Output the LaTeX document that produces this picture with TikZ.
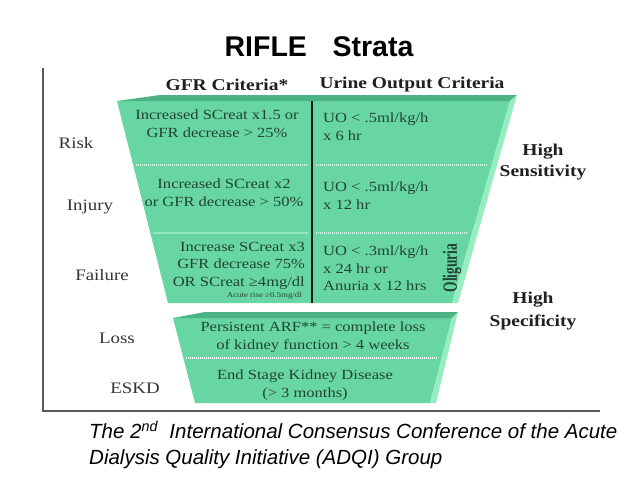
\documentclass[tikz,border=0pt]{standalone}
\usepackage{fontspec}
\setmainfont{Liberation Serif}
\newfontfamily\wideserif[FakeStretch=1.18]{Liberation Serif}
\newfontfamily\titlefont{Liberation Sans}
\usetikzlibrary{calc}
\definecolor{trapfill}{RGB}{104,214,162}
\definecolor{trapbevel}{RGB}{76,180,132}
\definecolor{trapside}{RGB}{150,238,192}
\definecolor{celltext}{RGB}{32,68,50}
\definecolor{frameline}{RGB}{90,90,90}
\tikzset{
  cell/.style={text=celltext, inner sep=0pt, font=\wideserif\fontsize{14}{18}\selectfont},
  stage/.style={text=black!80, inner sep=0pt, font=\wideserif\fontsize{16}{19}\selectfont},
  head/.style={text=black!88, inner sep=0pt, font=\wideserif\bfseries\fontsize{16.5}{21}\selectfont},
  sepline/.style={white, line width=1.1pt, dash pattern=on 1pt off 1pt},
}
\begin{document}
\begin{tikzpicture}[x=1pt,y=-1pt]
\useasboundingbox[fill=white] (0,0) rectangle (638,479);

% frame
\coordinate (ftop) at (43,68);
\coordinate (fcorner) at (43,411);
\coordinate (fend) at (600,411);
\draw[frameline, line width=1.2pt] (ftop) -- (fcorner) -- (fend);

% upper trapezoid
\coordinate (utl) at (117,101);
\coordinate (utr) at (510,101);
\coordinate (ubr) at (452,303);
\coordinate (ubl) at (168,303);
\coordinate (ubevl) at (160,95);
\coordinate (ubevr) at (517,95);
\coordinate (usider) at (458,303);
\fill[trapfill] (utl) -- (utr) -- (ubr) -- (ubl) -- cycle;
\fill[trapbevel] (utl) -- (ubevl) -- (ubevr) -- (utr) -- cycle;
\fill[trapside] (utr) -- (ubevr) -- (usider) -- (ubr) -- cycle;

% lower trapezoid
\coordinate (ltl) at (173,318);
\coordinate (ltr) at (452,318);
\coordinate (lbr) at (430,403);
\coordinate (lbl) at (195,403);
\coordinate (lbevl) at (205,312);
\coordinate (lbevr) at (458,312);
\coordinate (lsider) at (436,403);
\fill[trapfill] (ltl) -- (ltr) -- (lbr) -- (lbl) -- cycle;
\fill[trapbevel] (ltl) -- (lbevl) -- (lbevr) -- (ltr) -- cycle;
\fill[trapside] (ltr) -- (lbevr) -- (lsider) -- (lbr) -- cycle;

% separators
\coordinate (s1l) at ($(utl)!0.3168!(ubl)+(3,0)$);
\coordinate (s1r) at ($(utr)!0.3168!(ubr)+(-4,0)$);
\coordinate (s2l) at ($(utl)!0.6535!(ubl)+(3,0)$);
\coordinate (s2r) at ($(utr)!0.6535!(ubr)+(-4,0)$);
\coordinate (s1a) at (308,165);
\coordinate (s1b) at (316,165);
\coordinate (s2a) at (308,233);
\coordinate (s2b) at (316,233);
\draw[sepline] (s1l) -- (s1a);
\draw[sepline] (s1b) -- (s1r);
\draw[sepline] (s2l) -- (s2a);
\draw[sepline] (s2b) -- (s2r);
\coordinate (s3l) at ($(ltl)!0.47!(lbl)+(3,0)$);
\coordinate (s3r) at ($(ltr)!0.47!(lbr)+(-4,0)$);
\draw[sepline] (s3l) -- (s3r);

% vertical divider
\coordinate (vtop) at (312,101);
\coordinate (vbot) at (312,303);
\draw[line width=2.6pt, black!92] (vtop) -- (vbot);

% title
\node[inner sep=0pt, font=\titlefont\bfseries\fontsize{28.5}{34}\selectfont] (title) at (319,47) {RIFLE\hspace{0.9em}Strata};

% headers
\node[head] (hgfr) at (227,85) {GFR Criteria*};
\node[head] (huo) at (412,85) {Urine Output Criteria};

% stage labels
\node[stage] (risk) at (76,143) {Risk};
\node[stage] (injury) at (90,207) {Injury};
\node[stage] (failure) at (102,275) {Failure};
\node[stage] (loss) at (117,338) {Loss};
\node[stage] (eskd) at (135,388) {ESKD};

% GFR cells
\node[cell, align=center] (gfrr) at (217,124) {Increased SCreat x1.5 or\\GFR decrease > 25\%};
\node[cell, align=center] (gfri) at (224,193) {Increased SCreat x2\\or GFR decrease > 50\%};
\node[cell, align=right, anchor=east, font=\wideserif\fontsize{14}{17.5}\selectfont] (gfrf) at (305,265.5) {Increase SCreat x3\\GFR decrease 75\%\\OR SCreat ≥4mg/dl};
\node[cell, anchor=east, font=\wideserif\fontsize{7.5}{9}\selectfont] (gfrfs) at (302,296) {Acute rise ≥0.5mg/dl};

% UO cells
\node[cell, align=left, anchor=west] (uor) at (323,127) {UO < .5ml/kg/h\\x 6 hr};
\node[cell, align=left, anchor=west] (uoi) at (323,195.5) {UO < .5ml/kg/h\\x 12 hr};
\node[cell, align=left, anchor=west, font=\wideserif\fontsize{14}{17.5}\selectfont] (uof) at (323,268.5) {UO < .3ml/kg/h\\x 24 hr or\\Anuria x 12 hrs};
\node[cell, rotate=90, font=\fontsize{13.5}{16}\selectfont\bfseries] (olig) at (452,268) {\scalebox{1}[1.5]{Oliguria}};

% lower cells
\node[cell, align=center] (loss1) at (313,337.5) {Persistent ARF** = complete loss\\of kidney function > 4 weeks};
\node[cell, align=center] (eskd1) at (305,385) {End Stage Kidney Disease\\(> 3 months)};

% side labels
\node[head, align=center, font=\wideserif\bfseries\fontsize{16.5}{21}\selectfont] (hsens) at (543,162.5) {High\\Sensitivity};
\node[head, align=center, font=\wideserif\bfseries\fontsize{16.5}{23}\selectfont] (hspec) at (533,311.5) {High\\Specificity};

% caption
\node[anchor=west, align=left, inner sep=0pt, font=\titlefont\itshape\fontsize{20.5}{26}\selectfont] (caption) at (89,445) {The 2\textsuperscript{nd}\ \ International Consensus Conference of the Acute\\Dialysis Quality Initiative (ADQI) Group};
\end{tikzpicture}
\end{document}
